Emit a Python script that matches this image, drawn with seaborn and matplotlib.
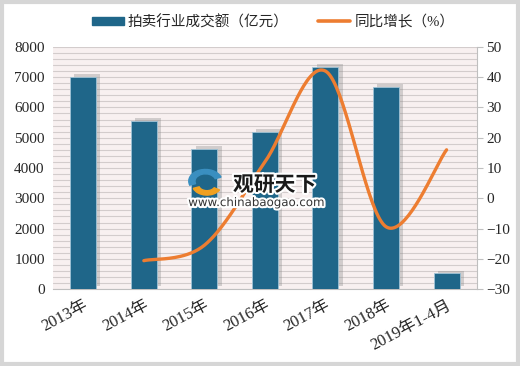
import numpy as np
import pandas as pd
import seaborn as sns
import matplotlib.pyplot as plt
import matplotlib.patheffects as pe
from matplotlib.patches import Patch, Rectangle, Wedge
from matplotlib.lines import Line2D

# data
years = ["2013年", "2014年", "2015年", "2016年", "2017年", "2018年", "2019年1-4月"]
turnover = [7000, 5550, 4630, 5190, 7340, 6690, 520]      # 亿元
growth_years = ["2014年", "2015年", "2016年", "2017年", "2018年", "2019年1-4月"]
growth = [-20.6, -15.5, 12, 42, -9.4, 16]                # %

bar_color = "#1f6689"
line_color = "#ed7d31"

sns.set_style("white")
plt.rcParams["font.family"] = ["Liberation Serif", "Noto Sans CJK SC", "DejaVu Sans"]
plt.rcParams["axes.unicode_minus"] = True

df = pd.DataFrame({"year": years, "turnover": turnover})

fig = plt.figure(figsize=(5.2, 3.66), dpi=100)
ax = fig.add_axes([0.102, 0.21, 0.815, 0.662])
ax.set_facecolor("#f8f0f0")

sns.barplot(data=df, x="year", y="turnover", color=bar_color, width=0.43,
            saturation=1, ax=ax, zorder=3)
for p in ax.patches:
    p.set_edgecolor("#9fc3d6")
    p.set_linewidth(0.6)
    p.set_path_effects([pe.SimplePatchShadow(offset=(3, 2), shadow_rgbFace="#8a8a8a", alpha=0.35),
                        pe.Normal()])

ax.set_ylim(0, 8000)
ax.set_yticks(np.arange(0, 8001, 1000))
ax.set_yticks(np.arange(0, 8001, 200), minor=True)
ax.grid(axis="y", which="both", color="#d3cccc", lw=0.8, zorder=0)
ax.set_axisbelow(True)
ax.set_xlim(-0.5, len(years) - 0.5)
ax.set_xlabel("")
ax.set_ylabel("")
ax.tick_params(axis="y", which="both", length=0, labelsize=11, pad=6)
ax.tick_params(axis="x", length=0, labelsize=12, pad=6)
plt.setp(ax.get_xticklabels(), rotation=28, ha="right", rotation_mode="anchor")
for s in ["top", "left", "right"]:
    ax.spines[s].set_visible(False)
ax.spines["bottom"].set_color("#bfbfbf")

# smoothed growth line (Catmull-Rom through the data points, like Excel's smoothing)
ax2 = ax.twinx()
xs = np.array([years.index(y) for y in growth_years], dtype=float)
ys = np.array(growth, dtype=float)
px = np.concatenate([[xs[0]], xs, [xs[-1]]])
py = np.concatenate([[ys[0]], ys, [ys[-1]]])
sx, sy = [], []
t = np.linspace(0, 1, 40)
for i in range(1, len(px) - 2):
    for arr, out in ((px, sx), (py, sy)):
        p0, p1, p2, p3 = arr[i - 1], arr[i], arr[i + 1], arr[i + 2]
        out.extend(0.5 * (2 * p1 + (-p0 + p2) * t + (2 * p0 - 5 * p1 + 4 * p2 - p3) * t ** 2
                          + (-p0 + 3 * p1 - 3 * p2 + p3) * t ** 3))
sns.lineplot(x=sx, y=sy, sort=False, color=line_color, lw=2.4, ax=ax2, zorder=4)
ax2.set_ylim(-30, 50)
ax2.set_yticks(np.arange(-30, 51, 10))
ax2.tick_params(axis="y", length=4, color="#bfbfbf", labelsize=11, pad=3)
for s in ["top", "left", "bottom"]:
    ax2.spines[s].set_visible(False)
ax2.spines["right"].set_color("#bfbfbf")

# legend
handles = [Patch(facecolor=bar_color, edgecolor=bar_color),
           Line2D([0], [0], color=line_color, lw=2.6)]
fig.legend(handles, ["拍卖行业成交额（亿元）", "同比增长（%）"], loc="center",
           bbox_to_anchor=(0.525, 0.94), ncol=2, frameon=False, fontsize=10.5,
           handlelength=2.2, handleheight=0.5, columnspacing=2.0, handletextpad=0.3)

# watermark
glow = [pe.withStroke(linewidth=3, foreground="white")]
fig.text(0.448, 0.478, "观研天下", fontsize=15, fontweight="bold", family="Noto Sans CJK SC",
         color="#1a1a1a", path_effects=glow, zorder=10)
fig.text(0.362, 0.437, "www.chinabaogao.com", fontsize=8.5, family="DejaVu Sans",
         color="#333333", path_effects=glow, zorder=10)
# rough logo swirl
fig.patches.append(Wedge((0.395, 0.505), 0.032, 20, 200, width=0.012,
                         transform=fig.transFigure, color="#3a8fc0", zorder=10))
fig.patches.append(Wedge((0.398, 0.495), 0.028, 200, 330, width=0.012,
                         transform=fig.transFigure, color="#f0a020", zorder=10))

# outer frame
fig.patches.append(Rectangle((0.004, 0.006), 0.992, 0.988, transform=fig.transFigure,
                             fill=False, edgecolor="#d6d6d6", lw=3))

fig.savefig("out.png", dpi=100)
